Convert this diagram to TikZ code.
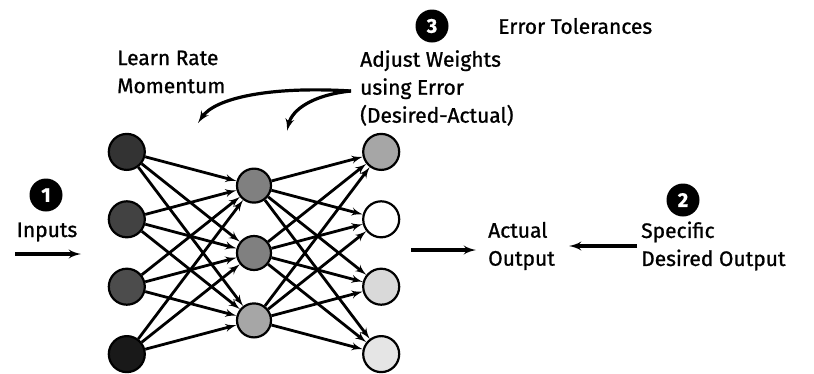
\documentclass[tikz,border=0pt]{standalone}
\usepackage{fontspec}
\setmainfont{Fira Sans}[FakeBold=1]
\usetikzlibrary{arrows,shapes.geometric,matrix,positioning}

\begin{document}
\begin{tikzpicture}[ampersand replacement=\&, x=1pt, y=-1pt,
  neuron/.style={circle, draw, line width=2.2pt, inner sep=0pt, minimum size=36pt},
  innode/.style={neuron, fill=black!80},
  hidnode/.style={neuron, fill=black!50, minimum size=34pt},
  outnode/.style={neuron},
  badge/.style={circle, fill=black, text=white, inner sep=0pt, minimum size=33pt,
    font=\fontsize{20}{20}\selectfont\bfseries},
  note/.style={align=left, inner sep=0pt, font=\fontsize{21}{28}\selectfont},
  line/.style={draw, line width=2.8pt, -latex'},
  bigline/.style={draw, line width=3.2pt, -latex'}]

  \useasboundingbox (0,0) rectangle (814,373);

  % the network: inputs, hidden layer, outputs
  \matrix (net) at (254,253) [column sep=90pt, row sep=-3.5pt]{
    \node [innode] (in1) {}; \& \& \node [outnode, fill=black!35] (out1) {}; \\
    \& \node [hidnode] (hid1) {}; \& \\
    \node [innode, fill=black!74] (in2) {}; \& \& \node [outnode, fill=white] (out2) {}; \\
    \& \node [hidnode] (hid2) {}; \& \\
    \node [innode, fill=black!70] (in3) {}; \& \& \node [outnode, fill=black!15] (out3) {}; \\
    \& \node [hidnode, fill=black!35] (hid3) {}; \& \\
    \node [innode, fill=black!90] (in4) {}; \& \& \node [outnode, fill=black!10] (out4) {}; \\
  };
  \foreach \i in {1,...,4}
    \foreach \j in {1,2,3}
      \draw [line] (in\i) -- (hid\j);
  \foreach \j in {1,2,3}
    \foreach \k in {1,...,4}
      \draw [line] (hid\j) -- (out\k);

  % step 1
  \node [badge] (one) at (46,195) {1};
  \node [note] (inputs) at (47,232) {Inputs};
  \coordinate (feedA) at (15,254);
  \coordinate (feedB) at (81,254);
  \draw [bigline] (feedA) -- (feedB);

  % step 3 and the training settings
  \node [badge] (three) at (432,26) {3};
  \node [note, anchor=west] (tol) at (498,26) {Error Tolerances};
  \node [note, anchor=west] (rate) at (117,72) {Learn Rate\\Momentum};
  \node [note, anchor=west] (adjust) at (360,88) {Adjust Weights\\using Error\\(Desired-Actual)};
  \coordinate (fork) at (351,91);
  \coordinate (toin) at (198,123);
  \coordinate (tohid) at (287,131);
  \draw [bigline] (fork) .. controls (270,86) and (215,98) .. (toin);
  \draw [bigline] (fork) .. controls (312,95) and (292,110) .. (tohid);

  % output side, step 2
  \node [note, anchor=west] (actual) at (488,246) {Actual\\Output};
  \coordinate (netout) at (411,250);
  \draw [bigline, shorten >=12pt] (netout) -- (actual.west |- netout);
  \node [badge] (two) at (683,200) {2};
  \node [note, anchor=west] (spec) at (641,246) {Specific\\Desired Output};
  \draw [bigline, shorten <=4pt, shorten >=14pt] (spec.west) -- (actual.east |- spec.west);
\end{tikzpicture}
\end{document}
